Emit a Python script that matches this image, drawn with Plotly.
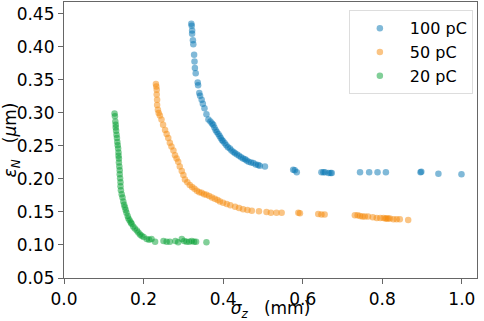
import plotly.graph_objects as go

# 100 pC
x_100 = [0.320,0.321,0.322,0.322,0.324,0.325,0.327,0.328,0.329,0.331,0.336,0.337,0.340,0.342,0.346,0.349,0.353,0.358,0.363,0.368,0.372,0.375,0.378,0.381,0.384,0.388,0.391,0.394,0.397,0.400,0.404,0.408,0.412,0.417,0.421,0.426,0.430,0.435,0.440,0.445,0.450,0.455,0.459,0.464,0.470,0.476,0.482,0.488,0.492,0.505,0.576,0.580,0.585,0.647,0.652,0.656,0.665,0.670,0.673,0.744,0.767,0.788,0.809,0.896,0.898,0.941,0.999]
y_100 = [0.435,0.432,0.425,0.420,0.410,0.404,0.388,0.378,0.368,0.360,0.346,0.342,0.330,0.326,0.320,0.314,0.307,0.298,0.290,0.287,0.284,0.282,0.278,0.274,0.271,0.268,0.265,0.262,0.259,0.257,0.254,0.251,0.248,0.246,0.243,0.241,0.239,0.237,0.235,0.233,0.231,0.230,0.228,0.226,0.225,0.224,0.222,0.221,0.220,0.219,0.214,0.213,0.210,0.210,0.210,0.210,0.209,0.209,0.209,0.210,0.210,0.210,0.210,0.210,0.211,0.208,0.207]

# 50 pC
x_50 = [0.231,0.232,0.233,0.233,0.234,0.234,0.236,0.238,0.241,0.245,0.249,0.254,0.258,0.262,0.266,0.270,0.275,0.279,0.283,0.287,0.291,0.296,0.300,0.304,0.310,0.316,0.322,0.328,0.334,0.340,0.346,0.352,0.358,0.365,0.372,0.379,0.386,0.392,0.400,0.409,0.418,0.430,0.440,0.450,0.461,0.472,0.490,0.509,0.520,0.534,0.547,0.589,0.593,0.639,0.647,0.655,0.731,0.738,0.744,0.750,0.756,0.764,0.776,0.786,0.795,0.803,0.808,0.811,0.815,0.819,0.828,0.836,0.844,0.865]
y_50 = [0.344,0.340,0.335,0.328,0.320,0.312,0.305,0.300,0.296,0.290,0.282,0.274,0.268,0.262,0.255,0.249,0.243,0.236,0.231,0.226,0.219,0.212,0.206,0.199,0.195,0.191,0.188,0.185,0.182,0.180,0.179,0.177,0.176,0.174,0.172,0.170,0.168,0.166,0.164,0.162,0.160,0.158,0.156,0.154,0.153,0.152,0.151,0.150,0.149,0.149,0.149,0.149,0.148,0.147,0.146,0.146,0.145,0.145,0.144,0.143,0.143,0.143,0.142,0.141,0.141,0.141,0.140,0.140,0.140,0.140,0.139,0.139,0.139,0.138]

# 20 pC
x_20 = [0.127,0.128,0.129,0.130,0.130,0.131,0.132,0.133,0.134,0.135,0.136,0.137,0.137,0.138,0.138,0.139,0.140,0.140,0.141,0.142,0.142,0.143,0.145,0.147,0.149,0.151,0.153,0.155,0.157,0.160,0.162,0.165,0.168,0.170,0.174,0.178,0.183,0.187,0.191,0.195,0.200,0.208,0.214,0.220,0.229,0.250,0.258,0.266,0.280,0.287,0.296,0.302,0.308,0.315,0.321,0.327,0.332,0.358]
y_20 = [0.299,0.295,0.287,0.282,0.278,0.273,0.267,0.262,0.256,0.251,0.246,0.240,0.235,0.231,0.225,0.219,0.213,0.207,0.201,0.195,0.189,0.183,0.177,0.172,0.166,0.161,0.157,0.153,0.149,0.144,0.140,0.137,0.134,0.132,0.128,0.125,0.122,0.119,0.116,0.114,0.112,0.109,0.108,0.109,0.105,0.106,0.105,0.105,0.106,0.104,0.109,0.106,0.105,0.105,0.106,0.105,0.105,0.104]

labels = ["100 pC", "50 pC", "20 pC"]
colors = ["#0173B2", "#F58A0A", "#04A032"]

x_ticks = [0.0, 0.2, 0.4, 0.6, 0.8, 1.0]
y_ticks = [0.05, 0.10, 0.15, 0.20, 0.25, 0.30, 0.35, 0.40, 0.45]

FONT = "DejaVu Sans"
FS = 17

fig = go.Figure()
for xs, ys, lab, col in zip([x_100, x_50, x_20], [y_100, y_50, y_20], labels, colors):
    fig.add_trace(go.Scatter(
        x=xs, y=ys, mode="markers", name=lab,
        marker=dict(size=6.5, color=col, opacity=0.5, line=dict(width=0)),
    ))

axis_common = dict(
    showline=True, linecolor="#666666", linewidth=1.2, mirror=True,
    ticks="outside", ticklen=5, tickwidth=1.2, tickcolor="#666666",
    showgrid=False, zeroline=False, automargin=False,
    tickfont=dict(family=FONT, size=FS, color="black"),
)

fig.update_layout(
    width=484, height=321,
    margin=dict(l=64, r=7, t=2, b=43, autoexpand=False),
    paper_bgcolor="white", plot_bgcolor="white",
    font=dict(family=FONT, size=FS, color="black"),
    showlegend=True,
    legend=dict(
        x=0.99, y=0.97, xanchor="right", yanchor="top",
        bgcolor="rgba(255,255,255,0.8)", bordercolor="#dddddd", borderwidth=1,
        font=dict(family=FONT, size=16, color="black"),
        itemwidth=50, tracegroupgap=0,
    ),
    xaxis=dict(
        range=[0.0, 1.038], tickvals=x_ticks,
        ticktext=[f"{v:.1f}" for v in x_ticks],
        title=dict(text="<i>σ</i><sub><i>z</i></sub>\u00a0\u00a0\u00a0(mm)", standoff=4,
                   font=dict(family=FONT, size=FS)),
        **axis_common,
    ),
    yaxis=dict(
        range=[0.05, 0.468], tickvals=y_ticks,
        ticktext=[f"{v:.2f}" for v in y_ticks],
        title=dict(text="<i>ε</i><sub><i>N</i></sub>\u00a0\u00a0\u00a0(<i>μ</i>m)", standoff=4,
                   font=dict(family=FONT, size=FS)),
        **axis_common,
    ),
)

fig.write_html("out.html", config={"displayModeBar": False},
               post_script="document.body.style.margin='0px';document.body.style.overflow='hidden';")
